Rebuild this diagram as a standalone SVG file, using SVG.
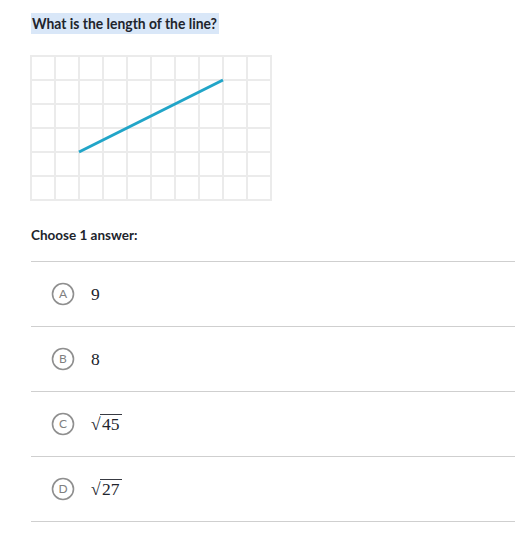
<svg xmlns="http://www.w3.org/2000/svg" width="515" height="550" viewBox="0 0 515 550">
<style>
.grid line{stroke:#ebebeb;stroke-width:2}
.sep{stroke:#cfcfcf;stroke-width:1}
.circ{fill:#fff;stroke:#8f8f8f;stroke-width:1.6}
.let{font-family:Lato,"Liberation Sans",sans-serif;font-size:12px;fill:#808080;text-anchor:middle}
.ans{font-family:"Liberation Serif","Times New Roman",serif;font-size:17.5px;fill:#21242c}
.bold{font-family:Lato,"Liberation Sans",sans-serif;font-weight:bold;fill:#21242c}
</style>
<rect width="515" height="550" fill="#fff"/>
<g id="title">
<rect x="31" y="13" width="188" height="21" fill="#d9e7f8"/>
<text class="bold" x="32" y="28.5" font-size="14.5" textLength="185" lengthAdjust="spacingAndGlyphs">What is the length of the line?</text>
</g>
<g id="grid" class="grid">
<line x1="31" y1="56" x2="31" y2="200"/><line x1="55" y1="56" x2="55" y2="200"/><line x1="79" y1="56" x2="79" y2="200"/><line x1="103" y1="56" x2="103" y2="200"/><line x1="127" y1="56" x2="127" y2="200"/><line x1="151" y1="56" x2="151" y2="200"/><line x1="175" y1="56" x2="175" y2="200"/><line x1="199" y1="56" x2="199" y2="200"/><line x1="223" y1="56" x2="223" y2="200"/><line x1="247" y1="56" x2="247" y2="200"/><line x1="271" y1="56" x2="271" y2="200"/>
<line x1="30" y1="56" x2="272" y2="56"/><line x1="30" y1="80" x2="272" y2="80"/><line x1="30" y1="104" x2="272" y2="104"/><line x1="30" y1="128" x2="272" y2="128"/><line x1="30" y1="152" x2="272" y2="152"/><line x1="30" y1="176" x2="272" y2="176"/><line x1="30" y1="200" x2="272" y2="200"/>
</g>
<g id="segment">
<line x1="79" y1="152" x2="223" y2="80" stroke="#21a5c8" stroke-width="3"/>
</g>
<g id="prompt">
<text class="bold" x="31" y="240" font-size="13.5">Choose 1 answer:</text>
</g>
<g id="separators">
<line class="sep" x1="31" y1="261.5" x2="515" y2="261.5"/>
<line class="sep" x1="31" y1="326.5" x2="515" y2="326.5"/>
<line class="sep" x1="31" y1="391.5" x2="515" y2="391.5"/>
<line class="sep" x1="31" y1="456.5" x2="515" y2="456.5"/>
<line class="sep" x1="31" y1="521.5" x2="515" y2="521.5"/>
</g>
<g id="optA">
<circle class="circ" cx="63" cy="294" r="10.5"/>
<text class="let" x="63" y="298.2">A</text>
<text class="ans" x="91" y="300">9</text>
</g>
<g id="optB">
<circle class="circ" cx="63" cy="359" r="10.5"/>
<text class="let" x="63" y="363.2">B</text>
<text class="ans" x="91" y="365">8</text>
</g>
<g id="optC">
<circle class="circ" cx="63" cy="424" r="10.5"/>
<text class="let" x="63" y="428.2">C</text>
<text class="ans" x="91" y="430">√</text>
<line x1="100" y1="414.5" x2="122" y2="414.5" stroke="#21242c" stroke-width="0.9"/>
<text class="ans" x="102" y="430">45</text>
</g>
<g id="optD">
<circle class="circ" cx="63" cy="489" r="10.5"/>
<text class="let" x="63" y="493.2">D</text>
<text class="ans" x="91" y="495">√</text>
<line x1="100" y1="479.5" x2="122" y2="479.5" stroke="#21242c" stroke-width="0.9"/>
<text class="ans" x="102" y="495">27</text>
</g>
</svg>
